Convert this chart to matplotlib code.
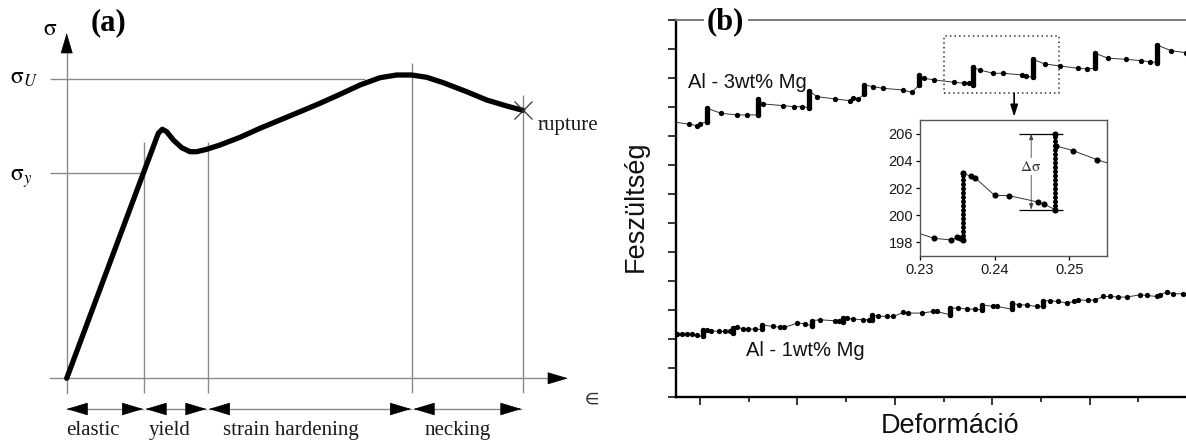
import numpy as np
import matplotlib.pyplot as plt
from matplotlib.ticker import MultipleLocator
from matplotlib.patches import Rectangle

plt.rcParams['mathtext.fontset'] = 'stix'

# ---- (a) schematic stress-strain curve (arbitrary units) ----
curve_strain = [0, 76.6, 86.6, 91.6, 95.6, 100.0, 106.6, 115.0, 123.3, 130.0, 140.0,
                153.3, 173.3, 193.3, 213.3, 233.3, 253.3, 273.3, 293.3, 313.3, 330.0,
                345.0, 360.0, 376.6, 400.0, 420.0, 440.0, 456.0]
curve_stress = [0, 205, 231.6, 245, 249, 246.6, 238.3, 230.6, 226.6, 226.6, 229,
                233.3, 241, 250, 258.3, 266.6, 275, 284, 293.3, 300.6, 303.3,
                303.3, 301, 295.6, 286.6, 278.3, 272.3, 268]
sigma_y = 205
sigma_U = 299
stage_edges = [0, 77.6, 141.0, 345.6, 456.0]
stage_tops = [236.6, 236.6, 315.0, 283.3]
stage_names = ['elastic', 'yield', 'strain hardening', 'necking']

# ---- (b) serrated flow curves ----
mg3_strain = [0.1745, 0.1778, 0.1793, 0.1800, 0.1814, 0.1814, 0.1843, 0.1875, 0.1896,
              0.1920, 0.1920, 0.1930, 0.1971, 0.1992, 0.2009, 0.2024, 0.2024, 0.2040,
              0.2077, 0.2107, 0.2115, 0.2125, 0.2137, 0.2137, 0.2156, 0.2175, 0.2216,
              0.2235, 0.2250, 0.2250, 0.2259, 0.2281, 0.2321, 0.2343, 0.2353, 0.2360,
              0.2360, 0.2374, 0.2402, 0.2422, 0.2461, 0.2469, 0.2483, 0.2483, 0.2508,
              0.2539, 0.2576, 0.2595, 0.2611, 0.2611, 0.2638, 0.2675, 0.2706, 0.2723,
              0.2738, 0.2738, 0.2767, 0.2798, 0.2830]
mg3_stress = [192.42, 192.02, 191.78, 192.07, 192.47, 194.78, 193.91, 193.62, 193.62,
              193.62, 196.33, 195.52, 195.22, 195.05, 195.05, 194.88, 197.81, 196.78,
              196.38, 196.09, 196.60, 196.38, 197.19, 198.79, 198.50, 198.22, 197.93,
              197.53, 198.79, 200.52, 199.95, 199.66, 199.26, 199.09, 199.19, 198.79,
              201.84, 201.38, 200.81, 200.81, 200.52, 200.34, 200.12, 203.22, 202.41,
              202.07, 201.67, 201.55, 201.67, 204.26, 203.40, 203.22, 202.98, 202.81,
              202.64, 205.69, 204.71, 204.36, 203.95]

mg1_strain = [0.1745, 0.1753, 0.1764, 0.1774, 0.1783, 0.1793, 0.1807, 0.1807, 0.1814,
              0.1822, 0.1838, 0.1851, 0.1862, 0.1868, 0.1868, 0.1875, 0.1889, 0.1899,
              0.1913, 0.1927, 0.1927, 0.1949, 0.1964, 0.1973, 0.2000, 0.2016, 0.2029,
              0.2029, 0.2046, 0.2077, 0.2086, 0.2094, 0.2094, 0.2101, 0.2115, 0.2135,
              0.2146, 0.2153, 0.2153, 0.2166, 0.2183, 0.2197, 0.2217, 0.2228, 0.2255,
              0.2279, 0.2286, 0.2313, 0.2313, 0.2330, 0.2348, 0.2365, 0.2378, 0.2378,
              0.2402, 0.2409, 0.2440, 0.2440, 0.2454, 0.2471, 0.2491, 0.2505, 0.2505,
              0.2519, 0.2536, 0.2553, 0.2567, 0.2577, 0.2597, 0.2611, 0.2628, 0.2642,
              0.2659, 0.2676, 0.2704, 0.2717, 0.2738, 0.2745, 0.2758, 0.2772, 0.2791,
              0.2830]
mg1_stress = [155.85, 155.81, 155.81, 155.81, 155.74, 155.57, 155.40, 156.55, 156.43,
              156.38, 156.26, 156.26, 156.26, 155.98, 156.84, 156.95, 156.72, 156.67,
              156.67, 156.60, 157.41, 157.12, 157.02, 156.95, 157.71, 157.59, 157.24,
              158.10, 158.28, 158.10, 158.10, 157.93, 158.62, 158.50, 158.40, 158.28,
              158.28, 158.28, 159.14, 158.91, 158.84, 158.84, 159.53, 159.43, 159.43,
              159.71, 159.71, 159.14, 160.29, 160.29, 160.12, 160.12, 160.00, 160.86,
              160.57, 160.57, 160.12, 161.16, 160.86, 160.81, 160.57, 160.57, 161.55,
              161.55, 161.43, 161.16, 161.43, 161.72, 161.60, 161.72, 162.29, 162.29,
              162.19, 162.19, 162.59, 162.47, 162.29, 162.59, 163.05, 162.76, 162.76,
              162.90]

# zoomed part of the Al - 3wt% Mg curve (inset)
ins_strain = [0.2300, 0.2319, 0.2342, 0.2350, 0.2354, 0.2357, 0.2357, 0.2368, 0.2374,
              0.2400, 0.2419, 0.2458, 0.2466, 0.2481, 0.2481, 0.2482, 0.2505, 0.2537,
              0.2551]
ins_stress = [198.64, 198.30, 198.18, 198.37, 198.33, 198.20, 203.10, 202.86, 202.74,
              201.46, 201.44, 200.97, 200.82, 200.41, 206.00, 205.10, 204.75, 204.09,
              203.84]
ins_xticks = [0.23, 0.24, 0.25]
ins_yticks = [198, 200, 202, 204, 206]
delta_low, delta_high = 200.4, 206.0
zoom_box = (0.2300, 0.2538, 197.36, 207.29)


def head(ax, tip, tail, hl=1.35, hw=0.4):
    ax.annotate('', xy=tip, xytext=tail,
                arrowprops=dict(arrowstyle=f'-|>,head_length={hl},head_width={hw}',
                                mutation_scale=10, color='black', lw=0.5,
                                shrinkA=0, shrinkB=0))


def serrated(ax, x, y, ms=3.8, bar=3.8, beads=False):
    x = np.asarray(x); y = np.asarray(y)
    ax.plot(x, y, color='#333333', lw=0.7, zorder=2)
    ax.plot(x[1:-1], y[1:-1], 'o', color='black', ms=ms, mew=0, zorder=3)
    jump = np.diff(x) == 0
    if beads:
        ax.vlines(x[:-1][jump], y[:-1][jump], y[1:][jump], color='black', lw=1.2, zorder=3)
        ax.vlines(x[:-1][jump], y[:-1][jump], y[1:][jump], color='black', lw=bar,
                  linestyles=[(0, (0.01, 0.85))], capstyle='round', zorder=3)
    else:
        ax.vlines(x[:-1][jump], y[:-1][jump], y[1:][jump], color='black', lw=bar,
                  capstyle='round', zorder=3)


fig = plt.figure(figsize=(11.86, 4.41), dpi=100)
W, H = 1186, 441

# ================= panel (a) =================
ax = fig.add_axes([0, 0, 600 / W, 1])
ax.set_xlim(-66.7, 533.3)
ax.set_ylim(-62.7, 378.3)
ax.axis('off')
grey = '#8a8a8a'
serif = 'Liberation Serif'

ax.plot([-16.7, 483], [0, 0], color=grey, lw=1.0)
head(ax, (501.3, 0), (482.3, 0))
ax.plot([0, 0], [-15, 327], color=grey, lw=1.0)
head(ax, (0, 345.3), (0, 326.3))
ax.hlines([sigma_U, sigma_y], -16.7, [298.3, 76.3], color=grey, lw=1.0)
ax.vlines(stage_edges[1:], -14.7, stage_tops, color=grey, lw=1.0)

ax.plot(curve_strain, curve_stress, color='black', lw=3.8,
        solid_joinstyle='round', solid_capstyle='round')
ax.plot(curve_strain[-1], curve_stress[-1], marker='x', ms=13, mew=0.9, color='#333333')

ya = -30.7
for i, name in enumerate(stage_names):
    a = stage_edges[i] + (1.3 if i > 0 else 0)
    b = stage_edges[i + 1] - 1.3
    ax.plot([a, b], [ya, ya], color=grey, lw=1.0)
    head(ax, (a, ya), (a + 19, ya), hl=1.4, hw=0.42)
    head(ax, (b, ya), (b - 19, ya), hl=1.4, hw=0.42)

for x, name in zip([25.8, 103.3, 224.0, 391.3], stage_names):
    ax.text(x, -56.7, name, ha='center', va='baseline', family=serif, size=15,
            color='#1a1a1a')

ax.text(-16.7, 343, r'$\mathrm{\sigma}$', ha='center', va='baseline', size=17)
ax.text(-57, 295, r'$\mathrm{\sigma}_U$', ha='left', va='baseline', size=17)
ax.text(-57, 198, r'$\mathrm{\sigma}_y$', ha='left', va='baseline', size=17)
ax.text(523.3, -19.7, r'$\in$', ha='center', va='center', size=15, color='#333333')
ax.text(471.3, 248.3, 'rupture', ha='left', va='baseline', family=serif, size=15,
        color='#1a1a1a')
ax.text(41.6, 355.8, '(a)', ha='center', va='center', family=serif, weight='bold',
        size=22)

# ================= panel (b) =================
bx = fig.add_axes([676 / W, (H - 396.7) / H, 535.4 / W, 376.7 / H])
bx.set_xlim(0.17507, 0.285)
bx.set_ylim(145, 210)
bx.set_yticks(np.arange(145, 211, 5))
bx.xaxis.set_major_locator(MultipleLocator(0.02))
bx.xaxis.set_minor_locator(MultipleLocator(0.01))
bx.tick_params(labelleft=False, labelbottom=False, direction='out', width=1.1)
bx.tick_params(axis='both', which='major', length=5.8)
bx.tick_params(axis='x', which='minor', length=3.6, width=1.1)
bx.tick_params(axis='y', which='minor', left=False)
for s in ['left', 'bottom']:
    bx.spines[s].set_linewidth(1.7)
bx.spines['right'].set_visible(False)
bx.spines['top'].set_color('#7a7a7a')
bx.spines['top'].set_linewidth(1.4)

serrated(bx, mg3_strain, mg3_stress)
serrated(bx, mg1_strain, mg1_stress)

sans = 'Liberation Sans'
bx.text(0.1776, 198.22, 'Al - 3wt% Mg', family=sans, size=14.5, va='baseline',
        color='#111111')
bx.text(0.1894, 151.95, 'Al - 1wt% Mg', family=sans, size=14.5, va='baseline',
        color='#111111')

x0, x1, y0, y1 = zoom_box
bx.add_patch(Rectangle((x0, y0), x1 - x0, y1 - y0, fill=False, ls=(0, (1, 2)),
                       lw=1.1, ec='#333333'))
bx.annotate('', xy=(0.2445, 193.3), xytext=(0.2445, y0),
            arrowprops=dict(arrowstyle='-|>,head_length=0.7,head_width=0.22',
                            mutation_scale=10, color='black', lw=1.2,
                            shrinkA=0, shrinkB=0))

fig.text(636 / W, 1 - 206 / H, 'Feszültség', rotation=90, ha='center', va='center',
         family=sans, size=19.5, color='#111111')
fig.text(950 / W, 1 - 433.3 / H, 'Deformáció', ha='center', va='baseline',
         family=sans, size=19.5, color='#111111')
fig.text(725.8 / W, 1 - 21.7 / H, '(b)', ha='center', va='center', family=serif,
         weight='bold', size=22,
         bbox=dict(boxstyle='square,pad=0.1', fc='white', ec='none'))

# ---- inset ----
ix = fig.add_axes([920 / W, (H - 256) / H, 187.3 / W, 136 / H])
ix.set_xlim(0.23, 0.2551)
ix.set_ylim(197, 207)
ix.set_xticks(ins_xticks)
ix.set_xticklabels([f'{v:.2f}' for v in ins_xticks])
ix.set_yticks(ins_yticks)
ix.tick_params(direction='out', length=3, width=0.9, labelsize=10.5,
               labelcolor='#1a1a1a', pad=2)
for lab in ix.get_xticklabels() + ix.get_yticklabels():
    lab.set_family(sans)
for s in ix.spines.values():
    s.set_color('#555555')
    s.set_linewidth(1.0)

serrated(ix, ins_strain, ins_stress, ms=4.4, bar=3.6, beads=True)
ix.hlines([delta_high, delta_low], 0.2433, 0.2492, color='black', lw=0.9)
ix.annotate('', xy=(0.2449, delta_high), xytext=(0.2449, delta_low),
            arrowprops=dict(arrowstyle='<|-|>,head_length=0.35,head_width=0.12',
                            mutation_scale=10, color='#444444', lw=0.6,
                            shrinkA=0, shrinkB=0))
ix.text(0.2448, 203.6, r'$\Delta\mathrm{\sigma}$', ha='center', va='center', size=11,
        color='#333333', bbox=dict(boxstyle='square,pad=0.05', fc='white', ec='none'))

fig.savefig('out.png', dpi=100)
